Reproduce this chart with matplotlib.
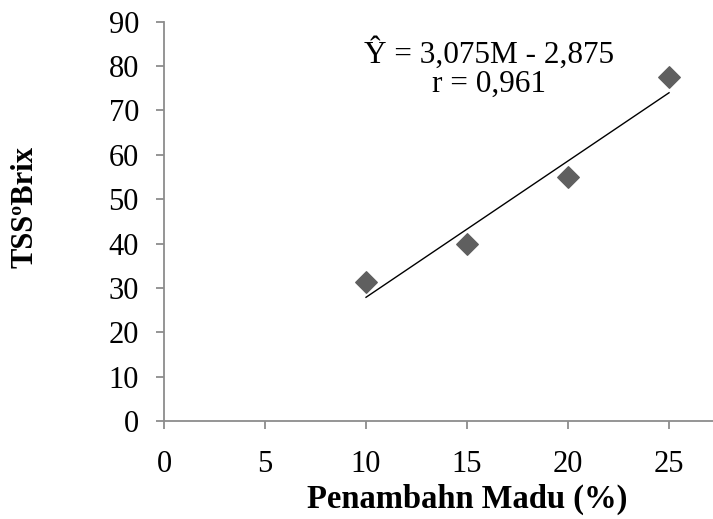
import numpy as np
import matplotlib
matplotlib.use('Agg')
import matplotlib.pyplot as plt

plt.rcParams['font.family'] = ['Liberation Serif', 'DejaVu Serif']

madu = [10, 15, 20, 25]           # Penambahan madu (%)
tss = [31.25, 40, 55, 77.5]       # TSS (Brix)
xticks = [0, 5, 10, 15, 20, 25]
yticks = [0, 10, 20, 30, 40, 50, 60, 70, 80, 90]

# garis regresi linear
slope, intercept = np.polyfit(madu, tss, 1)
x_fit = np.array([min(madu), max(madu)])
y_fit = slope * x_fit + intercept

fig = plt.figure(figsize=(7.13, 5.19), dpi=100)
# area plot lebih lebar dari gambar (sumbu sampai 30, terpotong di kanan)
ax = fig.add_axes([0.230, 0.189, 0.850, 0.769])

ax.plot(x_fit, y_fit, color='black', linewidth=1.0)
ax.scatter(madu, tss, marker='D', s=120, color='#5f5f5f', zorder=3)

ax.set_xlim(0, 30)
ax.set_ylim(0, 90)
ax.set_xticks(xticks)
ax.set_yticks(yticks)
ax.tick_params(axis='both', direction='out', length=6, width=1.3,
               color='#8c8c8c', labelsize=22)
ax.tick_params(axis='x', pad=15)
ax.tick_params(axis='y', pad=12)

for s in ['top', 'right']:
    ax.spines[s].set_visible(False)
for s in ['left', 'bottom']:
    ax.spines[s].set_color('#8c8c8c')
    ax.spines[s].set_linewidth(1.3)

ax.set_xlabel('Penambahn Madu (%)', fontsize=23.5, fontweight='bold')
ax.xaxis.set_label_coords(0.5, -0.158)
ax.set_ylabel('TSSºBrix', fontsize=22, fontweight='bold')
ax.yaxis.set_label_coords(-0.205, 0.535)

txt = 'Ŷ = 3,075M - 2,875\nr = 0,961'
ax.text(16.1, 79.5, txt, fontsize=22.5, ha='center', va='center', linespacing=1.0)

plt.savefig('out.png', dpi=100)
